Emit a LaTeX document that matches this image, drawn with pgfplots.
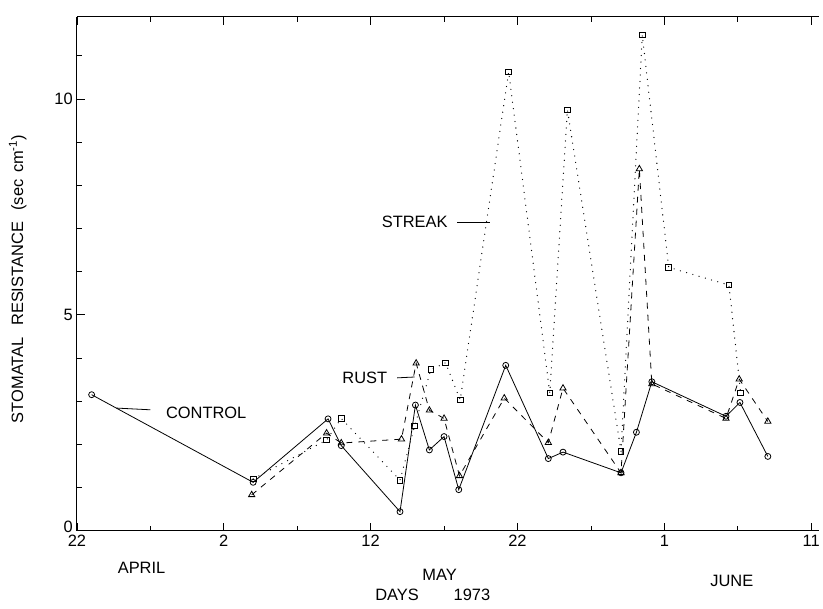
\documentclass[border=0pt]{standalone}
\usepackage{fontspec}
\setmainfont{Liberation Sans}
\usepackage{pgfplots}
\pgfplotsset{compat=1.18}
\newcommand\lf{\fontsize{16.5}{17}\selectfont}
\begin{document}
\begin{tikzpicture}
\begin{axis}[
  scale only axis, width=742bp, height=514bp,
  xmin=0, xmax=50.5, ymin=0, ymax=11.9,
  axis x line*=box, axis y line*=left, separate axis lines,
  xtick={0,10,20,30,40,50}, xticklabels={22,2,12,22,1,11},
  minor xtick={5,15,25,35,45},
  ytick={0,5,10}, yticklabels={\raisebox{8bp}{0},5,10},
  minor ytick={1,2,3,4,6,7,8,9,11},
  xtick pos=both, xticklabel pos=lower, ytick pos=left,
  tick align=inside,
  major tick length=8bp, minor tick length=5bp,
  tick style={line width=0.8pt, black},
  axis line style={line width=1pt, -},
  /pgf/number format/assume math mode=true,
  ticklabel style={font=\lf},
  xticklabel style={yshift=-1bp},
  yticklabel style={xshift=-3bp, inner sep=1bp},
  clip=false,
  ylabel={STOMATAL\hspace{0.7em}RESISTANCE\hspace{0.7em}(sec\hspace{0.4em}cm\textsuperscript{-1})},
  ylabel style={font=\lf, at={(axis description cs:-0.08,0.49)}, anchor=center},
]
\addplot[black, line width=0.8pt, mark=o, mark size=3pt, mark options={solid, fill=white}] coordinates {
(1,3.15) (12,1.12) (17.1,2.59) (18.0,1.97) (22.0,0.44) (23.05,2.91) (24.0,1.87)
(25.0,2.18) (26.0,0.95) (29.2,3.83) (32.1,1.67) (33.1,1.82) (37.05,1.34)
(38.1,2.28) (39.15,3.45) (44.2,2.65) (45.15,2.97) (47.05,1.72)
};
\addplot[black, line width=0.8pt, dash pattern=on 6bp off 6bp, mark=triangle, mark size=3.6pt, mark options={solid, fill=white}] coordinates {
(11.9,0.83) (17.0,2.26) (18.0,2.03) (22.1,2.12) (23.1,3.88) (24.0,2.79) (25.0,2.6)
(26.05,1.27) (29.1,3.07) (32.1,2.04) (33.1,3.3) (37.05,1.34) (38.3,8.38)
(39.15,3.4) (44.2,2.6) (45.1,3.51) (47.05,2.53)
};
\addplot[black, line width=1.3pt, line cap=round, dash pattern=on 0bp off 6.5bp, mark=square, mark size=2.8pt, mark options={solid, line width=0.9pt, fill=white}] coordinates {
(12.0,1.2) (17.0,2.1) (18.0,2.6) (22.0,1.17) (23.0,2.43) (24.1,3.73) (25.1,3.89)
(26.1,3.03) (29.4,10.63) (32.2,3.19) (33.4,9.75) (37.05,1.84) (38.5,11.48)
(40.3,6.1) (44.4,5.69) (45.2,3.19)
};
\node[font=\lf] at (axis cs:23.0,7.15) {STREAK};
\draw[line width=0.8pt] (axis cs:25.9,7.15) -- (axis cs:28.1,7.15);
\node[font=\lf] at (axis cs:19.6,3.54) {RUST};
\draw[line width=0.8pt] (axis cs:21.8,3.54) -- (axis cs:23.0,3.56);
\node[font=\lf] at (axis cs:8.8,2.73) {CONTROL};
\draw[line width=0.8pt] (axis cs:2.7,2.84) -- (axis cs:5.0,2.8);
\node[font=\lf] at (axis cs:4.4,-0.86) {APRIL};
\node[font=\lf] at (axis cs:24.7,-1.02) {MAY};
\node[font=\lf] at (axis cs:44.6,-1.16) {JUNE};
\node[font=\lf] at (axis cs:21.8,-1.48) {DAYS};
\node[font=\lf] at (axis cs:26.9,-1.48) {1973};
\end{axis}
\path (-77bp,-78bp) rectangle (746bp,531bp);
\end{tikzpicture}
\end{document}
